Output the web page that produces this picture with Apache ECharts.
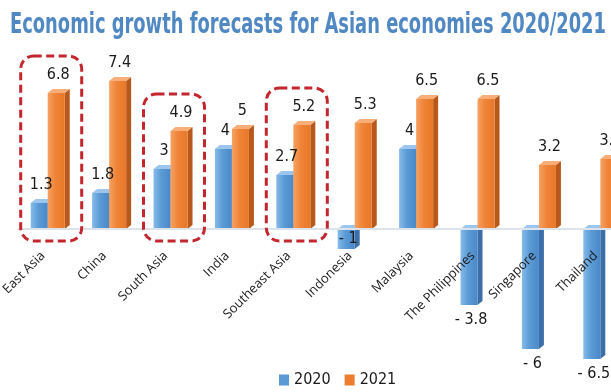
<!DOCTYPE html>
<html>
<head>
<meta charset="utf-8">
<script src="https://cdn.jsdelivr.net/npm/echarts@6/dist/echarts.min.js"></script>
<style>
html,body{margin:0;padding:0;background:#fff;}
#chart{width:611px;height:392px;}
</style>
</head>
<body>
<div id="chart"></div>
<script>
const titleText = 'Economic growth forecasts for Asian economies 2020/2021';
const categories = ['East Asia','China','South Asia','India','Southeast Asia','Indonesia','Malaysia','The Philippines','Singapore','Thailand'];
const growth2020 = [1.3, 1.8, 3, 4, 2.7, -1, 4, -3.8, -6, -6.5];
const growth2021 = [6.8, 7.4, 4.9, 5, 5.2, 5.3, 6.5, 6.5, 3.2, 3.5];
const seriesNames = ['2020', '2021'];
const highlighted = ['East Asia', 'South Asia', 'Southeast Asia'];

const NARROW = "'Liberation Sans Narrow','DejaVu Sans Condensed',sans-serif";
const palettes = [
  {legend:'#5b9bd5', front:['#86bbea','#5b9bd5','#4a88c8'], side:'#3c6fa8', top:'#9cc6ee'},
  {legend:'#ed7d31', front:['#f6a263','#ef8336','#e8782a'], side:'#b9581b', top:'#f7ae78'}
];
const Y_MIN = -7, Y_MAX = 8, GRID_TOP = 69, GRID_H = 300;

function fmt(v){ return v < 0 ? '- ' + Math.abs(v) : String(v); }

function makeRender(s){
  const pal = palettes[s];
  return function(params, api){
    const i = api.value(0), v = api.value(1);
    const base = api.coord([i, 0]);
    const end = api.coord([i, v]);
    const band = api.size([1, 0])[0];
    const c = base[0];
    const w = band * 0.277;
    const x0 = c - band * 0.293 + s * w;
    const dx = 5, dy = 4;
    const yTop = Math.min(base[1], end[1]);
    const yBot = Math.max(base[1], end[1]);
    const h = yBot - yTop;
    const children = [
      {type:'polygon', shape:{points:[[x0+w,yTop],[x0+w+dx,yTop-dy],[x0+w+dx,yBot-dy],[x0+w,yBot]]}, style:{fill:pal.side}},
      {type:'rect', shape:{x:x0, y:yTop, width:w, height:h}, style:{fill:new echarts.graphic.LinearGradient(0,0,1,0,[{offset:0,color:pal.front[0]},{offset:0.45,color:pal.front[1]},{offset:1,color:pal.front[2]}])}},
      {type:'polygon', shape:{points:[[x0,yTop],[x0+w,yTop],[x0+w+dx,yTop-dy],[x0+dx,yTop-dy]]}, style:{fill:pal.top}}
    ];
    const lx = x0 + w/2 + 2;
    let ly, va;
    if (v >= 0) { ly = yTop - 10; va = 'bottom'; }
    else if (Math.abs(v) < 1.5) { ly = (yTop + yBot)/2; va = 'middle'; }
    else { ly = yBot + 7; va = 'top'; }
    children.push({type:'text', z2:10, style:{text:fmt(v), x:lx, y:ly, align:'center', verticalAlign:va, fontSize:16, fontFamily:NARROW, fill:'#1a1a1a'}});
    return {type:'group', children:children};
  };
}

const chart = echarts.init(document.getElementById('chart'), null, {renderer:'canvas'});
const datasets = [growth2020, growth2021];
const option = {
  animation:false,
  backgroundColor:'#ffffff',
  legend:{
    data:seriesNames, left:274, top:367, icon:'rect', itemWidth:10, itemHeight:11, itemGap:14,
    textStyle:{fontSize:16, fontFamily:NARROW, color:'#1a1a1a'}
  },
  grid:{left:18, right:-21, top:GRID_TOP, height:GRID_H, containLabel:false, outerBoundsMode:'none'},
  xAxis:{
    type:'category', data:categories, position:'bottom', z:10,
    offset: -GRID_H * (0 - Y_MIN) / (Y_MAX - Y_MIN),
    axisLine:{onZero:false, lineStyle:{color:'#dde3ea', width:2}},
    axisTick:{show:false},
    axisLabel:{interval:0, rotate:45, margin:19, padding:[0,8,0,0], fontSize:13, fontFamily:"'Open Sans',sans-serif", color:'#1a1a1a'}
  },
  yAxis:{type:'value', min:Y_MIN, max:Y_MAX, show:false, splitLine:{show:false}},
  series: seriesNames.map((name, s) => ({
    type:'custom', name:name, z:2,
    itemStyle:{color:palettes[s].legend},
    renderItem:makeRender(s),
    encode:{x:0, y:1},
    data: datasets[s].map((v, i) => [i, v])
  }))
};
chart.setOption(option);

const ctx = document.createElement('canvas').getContext('2d');
const titleFont = "bold 28px " + NARROW;
ctx.font = titleFont;
const tw = ctx.measureText(titleText).width;
const titleScale = 596 / tw;

const graphics = [{
  type:'text', left:10, top:12, scaleX:titleScale, z:100,
  style:{text:titleText, font:titleFont, fill:'#5088c4'}
}];
highlighted.forEach(name => {
  const i = categories.indexOf(name);
  const maxV = Math.max(growth2020[i], growth2021[i]);
  const p0 = chart.convertToPixel({gridIndex:0}, [i, 0]);
  const p1 = chart.convertToPixel({gridIndex:0}, [i, maxV]);
  const top = p1[1] - 37;
  const bottom = p0[1] + 12;
  graphics.push({
    type:'rect', z:50,
    shape:{x:p0[0]-28, y:top, width:61, height:bottom-top, r:13},
    style:{fill:null, stroke:'#c4262e', lineWidth:3, lineDash:[8,4.5]}
  });
});
chart.setOption({graphic:graphics});
</script>
</body>
</html>
